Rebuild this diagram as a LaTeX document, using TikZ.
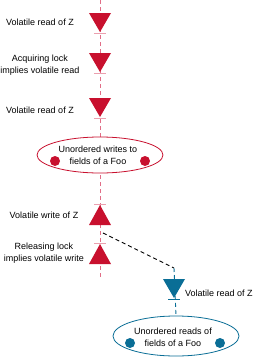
\documentclass[tikz,border=0pt]{standalone}
\usepackage{fontspec}
\setmainfont{Liberation Sans}
\usetikzlibrary{shapes.geometric}
\definecolor{jred}{RGB}{200,16,46}
\definecolor{jpink}{RGB}{225,110,135}
\definecolor{jtick}{RGB}{235,160,175}
\definecolor{jblue}{RGB}{10,110,150}
\tikzset{
  lbl/.style={inner sep=0pt, align=center, font=\fontsize{9}{12}\selectfont},
  redline/.style={draw=jpink, line width=0.9pt, dash pattern=on 4pt off 3pt},
  blueline/.style={draw=jblue, line width=0.9pt, dash pattern=on 4pt off 3pt},
  blackline/.style={draw=black, line width=0.9pt, dash pattern=on 4pt off 3pt},
  redell/.style={ellipse, draw=jred, fill=white, line width=0.8pt, minimum width=126pt, minimum height=36pt, inner sep=0pt},
  blueell/.style={ellipse, draw=jblue, fill=white, line width=0.8pt, minimum width=126pt, minimum height=40pt, inner sep=0pt},
  tridown/.pic={\fill[pic actions] (-11,0) -- (11,0) -- (0,19) -- cycle;
                \draw[line width=1pt, draw=#1] (-6,20) -- (6,20);},
  triup/.pic={\draw[line width=1pt, draw=#1] (-6,0) -- (6,0);
              \fill[pic actions] (0,1) -- (11,21) -- (-11,21) -- cycle;},
}
\begin{document}
\begin{tikzpicture}[x=1pt, y=-1pt]
\useasboundingbox (0,0) rectangle (259,357);
% spine coordinates
\coordinate (top) at (100,0);
\coordinate (bot) at (100,279);
\coordinate (wz) at (103,233);
\coordinate (bend) at (174,268);
% red time line
\draw[redline] (top) -- (bot);
% red ellipse
\node[redell] (wfoo) at (100,155) {};
\node[lbl] (wtxt) at (98,155) {Unordered writes to\\fields of a Foo};
\fill[jred] (55,161) circle (5pt) (145,161) circle (5pt);
% red triangles
\pic[fill=jred] (t1) at (100,13) {tridown=jtick};
\pic[fill=jred] (t2) at (100,53) {tridown=jtick};
\pic[fill=jred] (t3) at (100,98) {tridown=jtick};
\pic[fill=jred] (t4) at (100,204) {triup=jtick};
\pic[fill=jred] (t5) at (100,243) {triup=jtick};
% red labels
\node[lbl] (l1) at (40,22) {Volatile read of Z};
\node[lbl] (l2) at (40,65) {Acquiring lock\\implies volatile read};
\node[lbl] (l3) at (40,110) {Volatile read of Z};
\node[lbl] (l4) at (44,215) {Volatile write of Z};
\node[lbl] (l5) at (44,253) {Releasing lock\\implies volatile write};
% happens-before link
\draw[blackline] (wz) -- (bend);
% blue ellipse
\node[blueell] (rfoo) at (176,336) {};
\draw[blueline] (bend) -- (rfoo.north);
\node[lbl] (rtxt) at (173,337) {Unordered reads of\\fields of a Foo};
\fill[jblue] (130,343) circle (5pt) (220,343) circle (5pt);
% blue triangle
\pic[fill=jblue] (t6) at (174,279) {tridown=jblue};
\node[lbl, anchor=west] (l6) at (185,293) {Volatile read of Z};
\end{tikzpicture}
\end{document}
